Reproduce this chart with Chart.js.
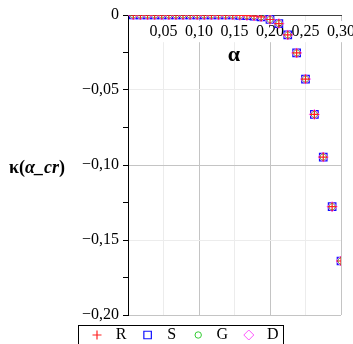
<!DOCTYPE html>
<html>
<head>
<meta charset="utf-8">
<script src="https://cdn.jsdelivr.net/npm/chart.js@4/dist/chart.umd.min.js"></script>
<style>
  html, body { margin: 0; padding: 0; background: #fff; }
  canvas { display: block; }
</style>
</head>
<body>
<canvas id="c" width="353" height="344"></canvas>
<script>
// α values (abscissa)
const alpha = [
  0.0075, 0.0175, 0.0275, 0.0375, 0.0475, 0.0575, 0.0675, 0.0775, 0.0875, 0.0975,
  0.1075, 0.1175, 0.1275, 0.1375, 0.1475, 0.1575, 0.1675, 0.1775, 0.1875,
  0.2, 0.2125, 0.225, 0.2375, 0.25, 0.2625, 0.275, 0.2875, 0.3
];
// κ(α_cr) for each method
const kappaR = [
  0, 0, 0, 0, 0, 0, 0, 0, 0, 0,
  0, 0, 0, 0, 0, -0.0002, -0.0004, -0.0007, -0.0012,
  -0.003, -0.0057, -0.0133, -0.0253, -0.0427, -0.0663, -0.0947, -0.1278, -0.164
];
const kappaS = [
  0, 0, 0, 0, 0, 0, 0, 0, 0, 0,
  0, 0, 0, 0, 0, -0.0002, -0.0004, -0.0007, -0.0012,
  -0.003, -0.0057, -0.0133, -0.0253, -0.0427, -0.0663, -0.0947, -0.1278, -0.164
];
const kappaG = [
  0, 0, 0, 0, 0, 0, 0, 0, 0, 0,
  0, 0, 0, 0, 0, -0.0002, -0.0004, -0.0007, -0.0012,
  -0.003, -0.0057, -0.0133, -0.0253, -0.0427, -0.0663, -0.0947, -0.1278, -0.164
];
const kappaD = [
  0, 0, 0, 0, 0, 0, 0, 0, 0, 0,
  0, 0, 0, 0, 0, -0.0002, -0.0004, -0.0007, -0.0012,
  -0.003, -0.0057, -0.0133, -0.0253, -0.0427, -0.0663, -0.0947, -0.1278, -0.164
];
const seriesNames = ['R', 'S', 'G', 'D'];
const xTickValues = [0, 0.05, 0.10, 0.15, 0.20, 0.25, 0.30];
const yTickValues = [0, -0.05, -0.10, -0.15, -0.20];

const SERIF = "'Liberation Serif', serif";
const GRID_DARK = '#c4c4c4';
const GRID_LIGHT = '#ececec';

const pts = ys => alpha.map((a, i) => ({ x: a, y: ys[i] }));

const styles = [
  { data: kappaR, pointStyle: 'cross',   color: '#ff2020', radius: 4.5, bw: 1.2, order: 0 },
  { data: kappaS, pointStyle: 'rect',    color: '#1010ff', radius: 5.3, bw: 1.2, order: 3 },
  { data: kappaG, pointStyle: 'circle',  color: '#33cc33', radius: 3.2, bw: 1,   order: 2 },
  { data: kappaD, pointStyle: 'rectRot', color: '#ff55ff', radius: 5,   bw: 1,   order: 1 }
];

const datasets = styles.map((s, i) => ({
  label: seriesNames[i],
  data: pts(s.data),
  showLine: false,
  pointStyle: s.pointStyle,
  pointRadius: s.radius,
  pointBorderColor: s.color,
  pointBackgroundColor: 'rgba(0,0,0,0)',
  pointBorderWidth: s.bw,
  order: s.order
}));

const fmt = v => {
  if (Math.abs(v) < 1e-9) return '0';
  const t = Math.abs(v).toFixed(2).replace('.', ',');
  return v < 0 ? '\u2212' + t : t;
};

// axis titles and boxed legend
const decorations = {
  id: 'decorations',
  afterDraw(chart) {
    const ctx = chart.ctx;
    ctx.save();
    ctx.fillStyle = '#000';
    ctx.textBaseline = 'middle';

    // x title
    ctx.font = 'bold 22px ' + SERIF;
    ctx.textAlign = 'center';
    ctx.fillText('α', 234, 55);

    // y title: κ(α_cr)
    ctx.textAlign = 'left';
    const parts = [
      ['bold 18px ' + SERIF, 'κ('],
      ['bold italic 18px ' + SERIF, 'α_cr'],
      ['bold 18px ' + SERIF, ')']
    ];
    let x = 9;
    parts.forEach(([f, t]) => {
      ctx.font = f;
      ctx.fillText(t, x, 168);
      x += ctx.measureText(t).width;
    });

    // legend box
    ctx.strokeStyle = '#000';
    ctx.lineWidth = 1;
    ctx.strokeRect(78.5, 325.5, 205, 30);
    const ly = 335;
    chart.data.datasets.forEach((ds, i) => {
      const mx = 97 + i * 50.6;
      ctx.save();
      ctx.strokeStyle = ds.pointBorderColor;
      ctx.fillStyle = 'rgba(0,0,0,0)';
      ctx.lineWidth = ds.pointBorderWidth;
      Chart.helpers.drawPoint(ctx, {
        pointStyle: ds.pointStyle,
        radius: ds.pointRadius,
        rotation: 0,
        borderWidth: ds.pointBorderWidth
      }, mx, ly);
      ctx.restore();
      ctx.font = '16px ' + SERIF;
      ctx.fillStyle = '#000';
      ctx.textAlign = 'center';
      ctx.fillText(ds.label, mx + 24, ly);
    });
    ctx.restore();
  }
};

new Chart(document.getElementById('c'), {
  type: 'scatter',
  data: { datasets },
  options: {
    responsive: false,
    animation: false,
    layout: { padding: { left: 0, top: 15, right: 12, bottom: 29 } },
    plugins: { legend: { display: false }, tooltip: { enabled: false } },
    scales: {
      x: {
        type: 'linear',
        position: { y: 0 },
        min: 0,
        max: 0.3,
        afterBuildTicks: s => { s.ticks = xTickValues.map(v => ({ value: v })); },
        afterFit: s => { s.paddingLeft = 0; s.paddingRight = 0; s.paddingTop = 0; s.paddingBottom = 0; },
        ticks: {
          font: { family: SERIF, size: 16 },
          color: '#000',
          padding: 7,
          maxRotation: 0,
          autoSkip: false,
          showLabelBackdrop: true,
          backdropColor: '#fff',
          backdropPadding: 1,
          callback: v => (Math.abs(v) < 1e-9 ? '' : fmt(v))
        },
        grid: {
          drawTicks: false,
          lineWidth: 1,
          color: c => {
            const k = Math.round(c.tick.value / 0.05);
            return k % 2 === 0 ? GRID_DARK : GRID_LIGHT;
          }
        },
        border: { display: true, color: '#404040', width: 1 }
      },
      y: {
        type: 'linear',
        position: 'left',
        min: -0.2,
        max: 0,
        afterFit: s => { s.width = 128; s.paddingTop = 0; s.paddingBottom = 0; },
        afterBuildTicks: s => {
          // labelled ticks every 0.05, unlabelled minor ticks in between
          const t = [];
          yTickValues.forEach((v, i) => {
            t.push({ value: v, major: true });
            if (i < yTickValues.length - 1) t.push({ value: (v + yTickValues[i + 1]) / 2, major: false });
          });
          s.ticks = t;
        },
        ticks: {
          font: { family: SERIF, size: 16 },
          color: '#000',
          padding: 4,
          autoSkip: false,
          callback: function (v, i, ticks) { return ticks[i].major ? fmt(v) : ''; }
        },
        grid: {
          drawTicks: true,
          tickLength: 5,
          tickColor: '#000',
          color: c => {
            if (!c.tick || !c.tick.major) return 'rgba(0,0,0,0)';
            const k = Math.round(-c.tick.value / 0.05);
            return k % 2 === 0 ? GRID_DARK : GRID_LIGHT;
          }
        },
        border: { display: true, color: '#000', width: 1 }
      }
    }
  },
  plugins: [decorations]
});
</script>
</body>
</html>
